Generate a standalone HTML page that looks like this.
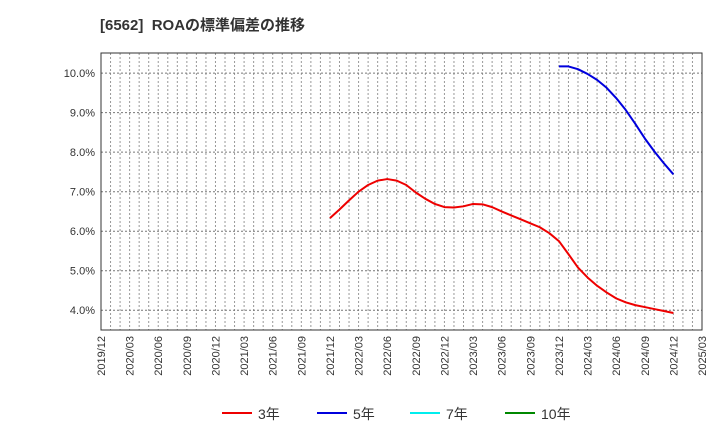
<!DOCTYPE html>
<html><head><meta charset="utf-8">
<style>
body{margin:0;background:#fff;font-family:"Liberation Sans","Noto Sans CJK JP",sans-serif;}
svg text{font-family:"Liberation Sans","Noto Sans CJK JP",sans-serif;}
</style></head>
<body>
<svg id="chart" width="720" height="440" xmlns="http://www.w3.org/2000/svg">
<text x="100" y="30" font-size="15" font-weight="bold" fill="#333">[6562]&#160; ROAの標準偏差の推移</text>
<g id="grid"></g>
<g id="series"></g>
<rect x="101" y="53" width="601" height="277" fill="none" stroke="#333" stroke-width="1"/>
<g id="axes"></g>
<g id="legend"></g>
</svg>
<script>
const yTicks=[4,5,6,7,8,9,10];
const xTickLabels=["2019/12","2020/03","2020/06","2020/09","2020/12","2021/03","2021/06","2021/09","2021/12","2022/03","2022/06","2022/09","2022/12","2023/03","2023/06","2023/09","2023/12","2024/03","2024/06","2024/09","2024/12","2025/03"];
const s3Start=24;
const s3=[6.33,6.55,6.78,7.0,7.17,7.28,7.32,7.28,7.17,6.98,6.82,6.69,6.61,6.6,6.63,6.69,6.68,6.61,6.5,6.4,6.3,6.2,6.1,5.95,5.75,5.42,5.08,4.83,4.62,4.45,4.3,4.2,4.13,4.08,4.03,3.98,3.93];
const s5Start=48;
const s5=[10.17,10.17,10.1,9.98,9.83,9.63,9.37,9.07,8.72,8.35,8.02,7.72,7.44];
const legendNames=["3年","5年","7年","10年"];
const legendColors=["#e00","#00d","#0ee","#080"];
const X0=101,X1=702,Y0=330,Y1=53,M=63,V0=3.5,V1=10.51;
const x=m=>X0+(X1-X0)*m/M;
const y=v=>Y0-(Y0-Y1)*(v-V0)/(V1-V0);
const NS="http://www.w3.org/2000/svg";
function mk(t,a,p){const e=document.createElementNS(NS,t);for(const k in a)e.setAttribute(k,a[k]);p.appendChild(e);return e;}
const grid=document.getElementById('grid'),axes=document.getElementById('axes'),ser=document.getElementById('series'),leg=document.getElementById('legend');
for(let m=1;m<M;m++){const l=mk('line',{x1:x(m),x2:x(m),y1:Y1,y2:Y0,stroke:'#999','stroke-dasharray':'2,2','stroke-width':1},grid);

}
yTicks.forEach(v=>{const l=mk('line',{x1:X0,x2:X1,y1:y(v),y2:y(v),stroke:'#777','stroke-dasharray':'2,2','stroke-width':1},grid);


const t=mk('text',{x:X0-6,y:y(v)+4,'text-anchor':'end','font-size':11,fill:'#333'},axes);t.textContent=v.toFixed(1)+'%';

});
xTickLabels.forEach((s,i)=>{const xx=x(i*3);const t=mk('text',{x:xx+4,y:Y0+6,'text-anchor':'end','font-size':11,fill:'#333',transform:`rotate(-90 ${xx+4} ${Y0+6})`},axes);t.textContent=s;

});
function line(d,start,c,name){const p=mk('polyline',{points:d.map((v,i)=>x(start+i)+','+y(v)).join(' '),fill:'none',stroke:c,'stroke-width':2,'stroke-linejoin':'round'},ser);

}
line(s3,s3Start,legendColors[0],'series-3y');
line(s5,s5Start,legendColors[1],'series-5y');
const lx=[222,317,410,505];
legendNames.forEach((n,i)=>{const l=mk('line',{x1:lx[i],x2:lx[i]+30,y1:413,y2:413,stroke:legendColors[i],'stroke-width':2},leg);


const t=mk('text',{x:lx[i]+36,y:419,'font-size':14,fill:'#333'},leg);t.textContent=n;

});
</script>
</body></html>
